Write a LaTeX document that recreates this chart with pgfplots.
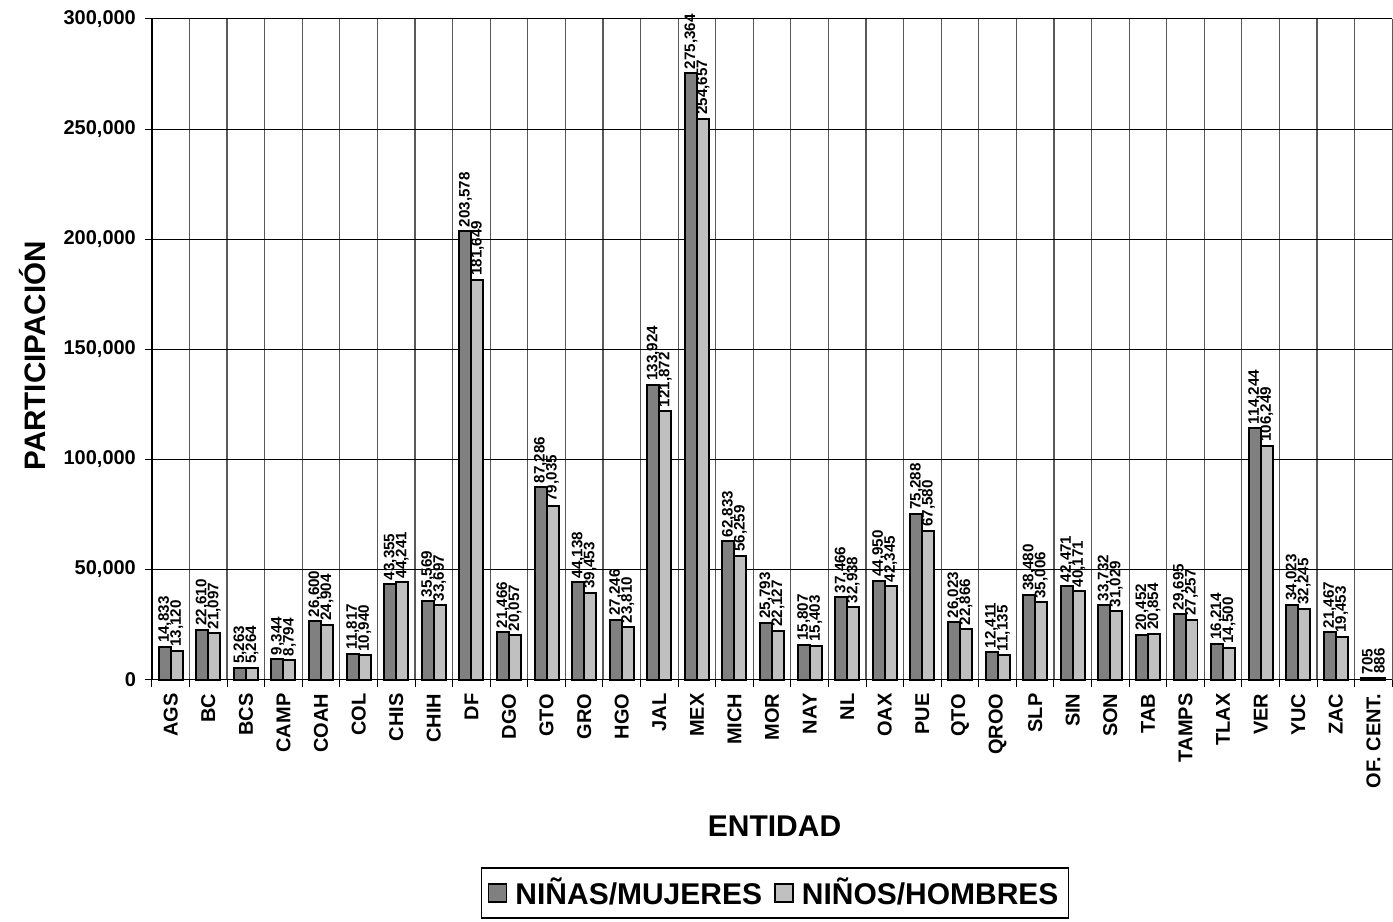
\documentclass[border=0pt]{standalone}
\usepackage{fontspec}
\setmainfont{Liberation Sans}
\usepackage{pgfplots}
\pgfplotsset{compat=1.18}
\usepackage{pgfplotstable}

\definecolor{mujer}{HTML}{808080}
\definecolor{hombre}{HTML}{C0C0C0}

% participación por entidad
\pgfplotstableread{
x  muj     hom
0  14833   13120
1  22610   21097
2  5263    5264
3  9344    8794
4  26600   24904
5  11817   10940
6  43355   44241
7  35569   33697
8  203578  181649
9  21466   20057
10 87286   79035
11 44138   39453
12 27246   23810
13 133924  121872
14 275364  254657
15 62833   56259
16 25793   22127
17 15807   15403
18 37466   32938
19 44950   42345
20 75288   67580
21 26023   22866
22 12411   11135
23 38480   35006
24 42471   40171
25 33732   31029
26 20452   20854
27 29695   27257
28 16214   14500
29 114244  106249
30 34023   32245
31 21467   19453
32 705     886
}\datos

\begin{document}
\begin{tikzpicture}
\begin{axis}[
    scale only axis,
    width=620.5pt, height=330.5pt,
    clip=false,
    ybar=0pt, bar width=6pt,
    xmin=-0.5, xmax=32.5,
    ymin=0, ymax=300000,
    ytick={0,50000,...,300000},
    scaled y ticks=false,
    yticklabel={\pgfmathprintnumber[fixed,precision=0,1000 sep={,},assume math mode=true]{\tick}},
    yticklabel style={font=\fontsize{10}{12}\selectfont\bfseries, xshift=-1pt},
    xtick={0,...,32},
    xticklabels={AGS,BC,BCS,CAMP,COAH,COL,CHIS,CHIH,DF,DGO,GTO,GRO,HGO,JAL,MEX,MICH,MOR,NAY,NL,OAX,PUE,QTO,QROO,SLP,SIN,SON,TAB,TAMPS,TLAX,VER,YUC,ZAC,OF. CENT.},
    xticklabel style={rotate=90, anchor=east, font=\fontsize{10}{12}\selectfont\bfseries},
    major x tick style={draw=none},
    minor xtick={-0.5,0.5,...,32.5},
    tick align=outside,
    major tick length=3.5pt, minor tick length=3.5pt,
    tick style={black, line width=0.5pt},
    ymajorgrids, xminorgrids,
    major grid style={black, line width=0.5pt},
    minor grid style={black!65, line width=0.6pt},
    axis line style={black, line width=0.8pt},
    axis x line*=bottom, axis y line*=left,
    xlabel={ENTIDAD},
    xlabel style={at={(axis description cs:0.502,-0.222)}, anchor=center, font=\fontsize{15}{18}\selectfont\bfseries},
    ylabel={PARTICIPACIÓN},
    ylabel style={at={(axis description cs:-0.0959,0.49)}, anchor=center, font=\fontsize{14.8}{17}\selectfont\bfseries},
    nodes near coords={\pgfmathprintnumber[fixed,precision=0,1000 sep={,},assume math mode=true]{\pgfplotspointmeta}},
    point meta=rawy,
    nodes near coords style={rotate=90, anchor=west, inner sep=1.5pt, font=\fontsize{7.6}{9}\selectfont\bfseries},
    legend columns=2,
    legend style={at={(axis description cs:0.5024,-0.2844)}, anchor=north,
        draw=black, line width=0.8pt, font=\fontsize{15}{18}\selectfont\bfseries,
        inner xsep=3pt, inner ysep=3pt, /tikz/every even column/.append style={column sep=4pt}},
    legend image code/.code={\draw[#1, line width=0.9pt] (0pt,-4.5pt) rectangle (9pt,4.5pt); \path (11pt,0pt);},
]
\addplot[fill=mujer, draw=black, line width=1pt] table[x=x, y=muj] {\datos};
\addlegendentry{NIÑAS/MUJERES}
\addplot[fill=hombre, draw=black, line width=1pt] table[x=x, y=hom] {\datos};
\addlegendentry{NIÑOS/HOMBRES}
\path (rel axis cs:-0.1225,-0.3661) (rel axis cs:1,1.0287);
\end{axis}
\end{tikzpicture}
\end{document}
